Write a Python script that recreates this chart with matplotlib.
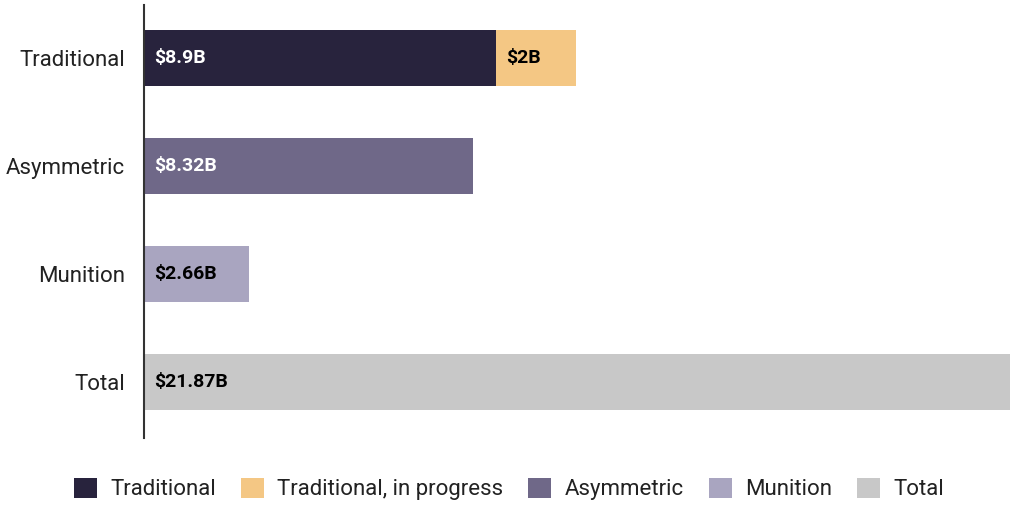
import matplotlib.pyplot as plt
from matplotlib.patches import Patch

categories = ["Traditional", "Asymmetric", "Munition", "Total"]
base_values = [8.9, 8.32, 2.66, 21.87]
base_labels = ["$8.9B", "$8.32B", "$2.66B", "$21.87B"]
progress_value = 2.0
progress_label = "$2B"

legend_names = ["Traditional", "Traditional, in progress", "Asymmetric", "Munition", "Total"]
colors = ["#28233d", "#f4c784", "#6f6888", "#a9a5c0", "#c8c8c8"]
bar_colors = [colors[0], colors[2], colors[3], colors[4]]
label_colors = ["white", "white", "black", "black"]

plt.rcParams["font.family"] = ["Roboto", "DejaVu Sans"]

fig = plt.figure(figsize=(10.24, 5.12), dpi=100)
ax = fig.add_axes([144 / 1024, 1 - 438 / 512, (1010 - 144) / 1024, 433 / 512])

y = list(range(len(categories)))
ax.barh(y, base_values, height=0.52, color=bar_colors)
ax.barh(y[0], progress_value, left=base_values[0], height=0.52, color=colors[1])

for i, (lab, col) in enumerate(zip(base_labels, label_colors)):
    ax.text(0.25, i, lab, va="center", ha="left", color=col,
            fontsize=14, fontweight="bold")
ax.text(base_values[0] + 0.25, 0, progress_label, va="center", ha="left",
        color="black", fontsize=14, fontweight="bold")

ax.set_xlim(0, 21.87)
ax.set_ylim(3.52, -0.49)
ax.set_yticks(y)
ax.set_yticklabels(categories, fontsize=16, color="#222222")
ax.tick_params(axis="y", length=0, pad=13.5)
ax.set_xticks([])
for s in ["top", "right", "bottom"]:
    ax.spines[s].set_visible(False)
ax.spines["left"].set_color("#333333")
ax.spines["left"].set_linewidth(1.5)

handles = [Patch(facecolor=c, edgecolor="none") for c in colors]
fig.legend(handles, legend_names, loc="center", bbox_to_anchor=(0.497, 1 - 489 / 512),
           ncol=5, frameon=False, fontsize=16, handlelength=1.04, handleheight=1.04,
           handletextpad=0.59, columnspacing=1.13, labelcolor="#222222")

fig.savefig("out.png", dpi=100)
